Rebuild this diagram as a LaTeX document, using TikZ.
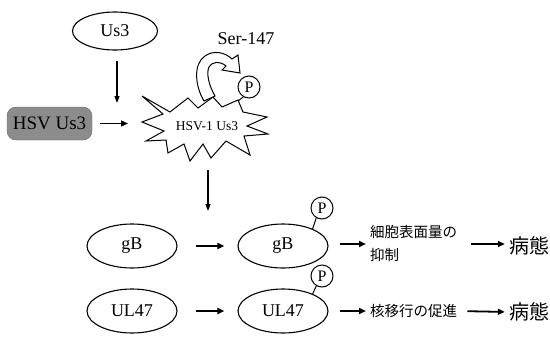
\documentclass[tikz,border=0pt]{standalone}
\usepackage{fontspec}
\setmainfont{Liberation Serif}
\newfontfamily\jpfont{Noto Sans CJK JP}
\usetikzlibrary{arrows.meta,shapes.geometric}
\tikzset{
  oval/.style={draw, ellipse, line width=1.1pt, inner sep=0pt, minimum width=90pt, minimum height=44pt, font=\fontsize{18}{18}\selectfont},
  phos/.style={draw, circle, line width=1pt, inner sep=0pt, minimum size=22pt, font=\fontsize{16}{16}\selectfont},
  harr/.style={-{Triangle[length=7pt,width=6pt]}, line width=1.8pt},
  varr/.style={-{Triangle[length=7pt,width=5pt]}, line width=1.1pt},
  jptext/.style={font=\jpfont\fontsize{14.5}{23}\selectfont, inner sep=0pt, align=left},
  jpbig/.style={font=\jpfont\fontsize{20}{20}\selectfont, inner sep=0pt},
}
\begin{document}
\begin{tikzpicture}[x=1pt,y=-1pt]
\useasboundingbox (0,0) rectangle (550,338);
% top
\node[oval, minimum width=85pt, minimum height=38pt] (us3) at (115,31) {Us3};
\node[draw=black!60, fill=black!45, rounded corners=9pt, minimum width=85pt, minimum height=33pt, inner sep=0pt, font=\fontsize{19}{19}\selectfont] (hsv) at (49.5,123.5) {HSV Us3};
% starburst
\draw[line width=1pt, fill=white] (142,96) -- (170,112) -- (188,98) -- (198,108) -- (213,97) -- (222,107) -- (238,100) -- (243,112) -- (267,117) -- (247,126) -- (268,134) -- (244,136) -- (250,155) -- (226,141) -- (211,158) -- (203,144) -- (190,161) -- (184,144) -- (168,153) -- (166,140) -- (146,141) -- (164,131) -- (142,122) -- (163,114) -- cycle;
\node[inner sep=0pt, font=\fontsize{13.5}{13.5}\selectfont] (burst) at (207,126) {HSV-1 Us3};
\coordinate (burstS) at (208,170);
\coordinate (burstTip) at (238,101);
% curved block arrow
\draw[line width=1pt, fill=white] (204,101) .. controls (195,86) and (193,64) .. (205,56) .. controls (213,50) and (225,52) .. (232,59) -- (238,55) -- (240,73) -- (222,70) -- (226,66) .. controls (220,61) and (213,61) .. (209,67) .. controls (206,73) and (209,86) .. (215,96) -- cycle;
\node[inner sep=0pt, font=\fontsize{18}{18}\selectfont] (ser) at (246,39) {Ser-147};
\node[phos] (p1) at (249,87) {P};
\draw[line width=1pt] (p1.240) -- (burstTip);
% arrows top
\draw[varr] (us3.south) ++(2,10) -- (117,103);
\draw[harr, line width=1.4pt] (hsv.east) ++(8,0) -- (128,123.5);
\draw[varr] (burstS) -- (208,211);
% rows
\node[oval] (gb1) at (132,246) {gB};
\node[oval] (gb2) at (283,246) {gB};
\node[oval] (ul1) at (132,311) {UL47};
\node[oval] (ul2) at (283,311) {UL47};
\node[phos] (p2) at (322,208) {P};
\node[phos] (p3) at (322,276) {P};
\draw[line width=1pt] (p2.240) -- (gb2.30);
\draw[line width=1pt] (p3.240) -- (ul2.30);
\draw[harr, shorten <=18pt, shorten >=13pt] (gb1.east) -- (gb2.west);
\draw[harr, shorten <=18pt, shorten >=13pt] (ul1.east) -- (ul2.west);
\node[jptext, anchor=west] (jp1) at (370,243) {細胞表面量の\\抑制};
\node[jptext, anchor=west] (jp2) at (370,311) {核移行の促進};
\node[jpbig] (bt1) at (529,246) {病態};
\node[jpbig] (bt2) at (529,312) {病態};
\draw[harr, shorten <=11pt, shorten >=4pt] (gb2.east |- 0,244) -- (jp1.west |- 0,244);
\draw[harr, shorten <=11pt, shorten >=4pt] (ul2.east) -- (jp2.west);
\draw[harr, shorten >=4pt] (471,244) -- (bt1.west |- 0,244);
\draw[harr, shorten <=10pt, shorten >=4pt] (jp2.east) -- (bt2.west);
\end{tikzpicture}
\end{document}
